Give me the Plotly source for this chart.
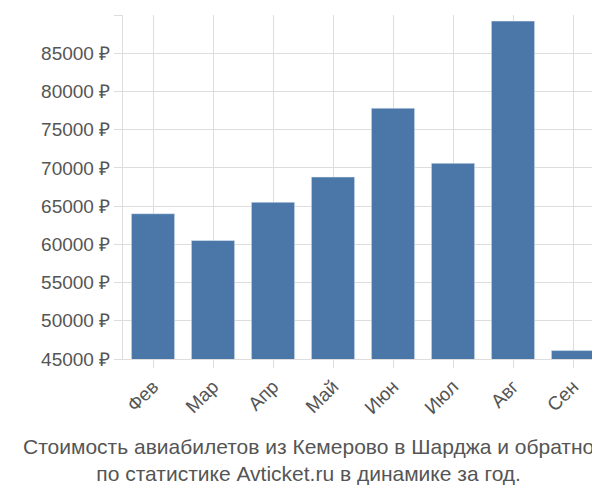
import plotly.graph_objects as go

months = ["Фев", "Мар", "Апр", "Май", "Июн", "Июл", "Авг", "Сен"]
prices = [64000, 60500, 65500, 68800, 77800, 70600, 89200, 46100]
yticks = list(range(45000, 90001, 5000))
ytext = [f"{v} ₽" for v in yticks]

fig = go.Figure(go.Bar(x=months, y=prices, marker_color="#4a76a8", width=0.72))
fig.update_layout(
    width=600, height=500, paper_bgcolor="white", plot_bgcolor="white",
    margin=dict(l=115, r=5, t=7, b=149),
    font=dict(family="Liberation Sans, Arial, sans-serif", size=19, color="#555"),
    showlegend=False,
)
fig.update_yaxes(range=[45000, 90000], tickvals=yticks, ticktext=ytext,
                 showgrid=True, gridcolor="#ddd", zeroline=False,
                 ticks="outside", ticklen=8, tickcolor="#ddd", showline=True, linecolor="#ddd")
fig.update_xaxes(tickangle=-45, showgrid=True, gridcolor="#ddd", showline=True, linecolor="#ddd",
                 ticks="outside", ticklen=8, tickcolor="#ddd")
fig.add_annotation(text="Стоимость авиабилетов из Кемерово в Шарджа и обратно<br>по статистике Avticket.ru в динамике за год.",
                   xref="paper", yref="paper", x=0.5, y=0, xanchor="center", yanchor="middle",
                   showarrow=False, font=dict(size=21, color="#555"), xshift=-55, yshift=-101)
fig.write_html("out.html")
